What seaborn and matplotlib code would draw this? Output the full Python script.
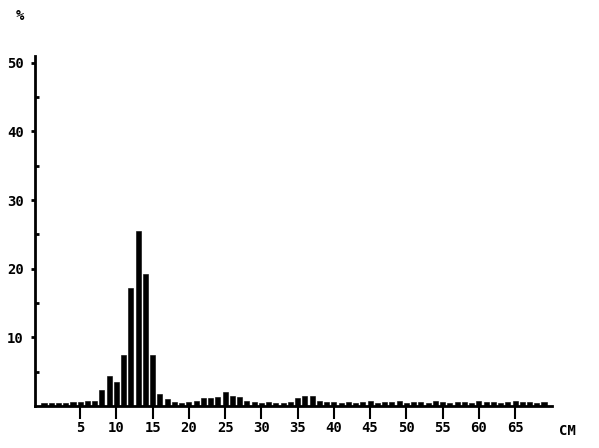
import seaborn as sns
import pandas as pd
import numpy as np
import matplotlib.pyplot as plt

# length classes (cm) and share of catch (%)
length_cm = list(range(0, 70))
share_pct = [
    0.5, 0.5, 0.5, 0.5, 0.6, 0.6, 0.7, 0.7, 2.3, 4.4,
    3.5, 7.4, 17.2, 25.5, 19.3, 7.4, 1.8, 1.0, 0.6, 0.5,
    0.6, 0.7, 1.1, 1.2, 1.3, 2.1, 1.4, 1.3, 0.7, 0.6,
    0.5, 0.6, 0.5, 0.5, 0.6, 1.1, 1.5, 1.5, 0.8, 0.6,
    0.6, 0.5, 0.6, 0.5, 0.6, 0.7, 0.5, 0.6, 0.6, 0.7,
    0.5, 0.6, 0.6, 0.5, 0.7, 0.6, 0.5, 0.6, 0.6, 0.5,
    0.7, 0.6, 0.6, 0.5, 0.6, 0.7, 0.6, 0.6, 0.5, 0.6,
]
x_ticks = [5, 10, 15, 20, 25, 30, 35, 40, 45, 50, 55, 60, 65]
y_ticks = [10, 20, 30, 40, 50]

df = pd.DataFrame({"cm": length_cm, "pct": share_pct})

sns.set_style("ticks")
plt.rcParams['font.family'] = ['DejaVu Sans Mono', 'DejaVu Sans']
plt.rcParams['text.color'] = 'black'
plt.rcParams['xtick.color'] = 'black'
plt.rcParams['ytick.color'] = 'black'

fig = plt.figure(figsize=(5.99, 4.48), dpi=100)
ax = fig.add_axes([35 / 599, 42 / 448, (552 - 35) / 599, (406 - 56) / 448])

sns.barplot(data=df, x="cm", y="pct", native_scale=True, color="black",
            width=0.7, saturation=1, linewidth=0.4, edgecolor="black", ax=ax)

ax.set_xlim(-1.24, 70.1)
ax.set_ylim(0, 51)
ax.set_xticks(x_ticks)
ax.set_xticklabels([str(t) for t in x_ticks], fontsize=10, fontweight="bold")
ax.set_yticks(y_ticks)
ax.set_yticklabels([str(t) for t in y_ticks], fontsize=10, fontweight="bold")
ax.set_yticks([5, 15, 25, 35, 45], minor=True)
ax.tick_params(axis="x", direction="out", length=9, width=1.5, pad=2)
ax.tick_params(axis="y", which="major", direction="out", length=3, width=2, pad=5)
ax.tick_params(axis="y", which="minor", direction="in", length=3, width=2)
ax.set_xlabel("")
ax.set_ylabel("")
sns.despine(ax=ax)
for side in ["left", "bottom"]:
    ax.spines[side].set_linewidth(2)
    ax.spines[side].set_color("black")

fig.text(20 / 599, 1 - 16 / 448, "%", fontsize=10, fontweight="bold", ha="center", va="center")
fig.text(567 / 599, 1 - 431 / 448, "CM", fontsize=10, fontweight="bold", ha="center", va="center")

fig.savefig("out.png", dpi=100)
